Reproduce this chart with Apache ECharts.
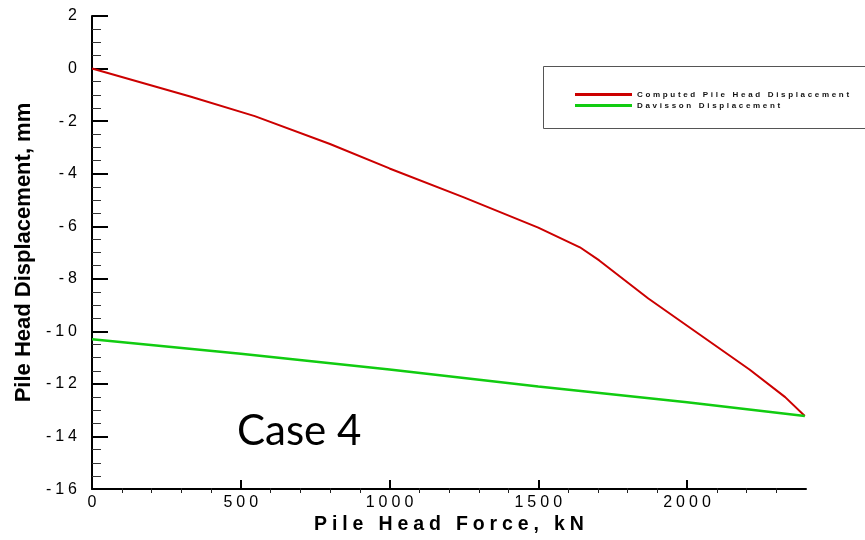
<!DOCTYPE html>
<html>
<head>
<meta charset="utf-8">
<script src="https://cdn.jsdelivr.net/npm/echarts@6/dist/echarts.min.js"></script>
<style>
html,body{margin:0;padding:0;background:#fff;}
#chart{width:865px;height:540px;}
</style>
</head>
<body>
<div id="chart"></div>
<script>
// ---- data ----
var computedForce = [0, 330, 547, 800, 1000, 1250, 1500, 1640, 1705, 1870, 2040, 2210, 2330, 2396];
var computedDisp  = [0, -1.06, -1.81, -2.87, -3.8, -4.9, -6.05, -6.8, -7.3, -8.75, -10.1, -11.45, -12.5, -13.22];
var davissonForce = [0, 500, 1000, 1500, 2000, 2396];
var davissonDisp  = [-10.3, -10.85, -11.45, -12.1, -12.7, -13.22];
var xMajorTicks = [0, 500, 1000, 1500, 2000];
var xMinorTicks = [100,200,300,400,600,700,800,900,1100,1200,1300,1400,1600,1700,1800,1900,2100,2200,2300];
var seriesNames = ['Computed Pile Head Displacement', 'Davisson Displacement'];
var xTitle = 'Pile Head Force, kN';
var yTitle = 'Pile Head Displacement, mm';
var caseLabel = 'Case 4';

function pairs(xs, ys){ return xs.map(function(x,i){ return [x, ys[i]]; }); }
function spaced(s, sp){ return String(s).split('').join(sp); }

var FONT = 'Liberation Sans, Arial, sans-serif';
var gridBox = { left: 92, top: 16, right: 59, bottom: 47, containLabel: false };

var chart = echarts.init(document.getElementById('chart'), null, {renderer:'canvas'});
var option = {
  backgroundColor: '#ffffff',
  animation: false,
  grid: [ Object.assign({}, gridBox), Object.assign({}, gridBox) ],
  legend: {
    orient: 'vertical',
    left: 570, top: 84,
    icon: 'rect',
    itemWidth: 57, itemHeight: 3,
    itemGap: 0,
    textStyle: { fontFamily: FONT, fontSize: 8, fontWeight: 'bold', color: '#111', lineHeight: 11 },
    formatter: function(n){ return spaced(n, '\u2004'); },
    data: seriesNames
  },
  graphic: [
    { type: 'rect', shape: { x: 543.5, y: 66.5, width: 330, height: 62 }, style: { fill: 'none', stroke: '#555', lineWidth: 1 }, silent: true },
    { type: 'text', left: 237, top: 410, style: { text: caseLabel, font: '42px Lato, "Open Sans", sans-serif', fill: '#000' } }
  ],
  xAxis: [
    {
      type: 'value', gridIndex: 0, min: 0, max: 2400, position: 'bottom',
      name: spaced(xTitle, '\u2005'), nameLocation: 'middle', nameGap: 22,
      nameTextStyle: { fontFamily: FONT, fontSize: 19.5, fontWeight: 'bold', color: '#000' },
      axisLine: { show: true, onZero: false, lineStyle: { color: '#000', width: 2 } },
      axisTick: { show: true, inside: true, length: 9, lineStyle: { color: '#000', width: 2 }, customValues: xMajorTicks },
      axisLabel: { show: true, customValues: xMajorTicks, margin: 5, color: '#000', fontSize: 16, fontFamily: FONT,
                   formatter: function(v){ return spaced(v, '\u2005'); } },
      splitLine: { show: false }
    },
    {
      type: 'value', gridIndex: 1, min: 0, max: 2400, position: 'bottom',
      axisLine: { show: false, onZero: false },
      axisTick: { show: true, inside: true, length: 5, lineStyle: { color: '#222', width: 1 }, customValues: xMinorTicks },
      axisLabel: { show: false },
      splitLine: { show: false }
    }
  ],
  yAxis: [
    {
      type: 'value', gridIndex: 0, min: -16, max: 2, interval: 2,
      name: yTitle, nameLocation: 'middle', nameGap: 51,
      nameTextStyle: { fontFamily: FONT, fontSize: 22, fontWeight: 'bold', color: '#000' },
      axisLine: { show: true, onZero: false, lineStyle: { color: '#000', width: 2 } },
      axisTick: { show: true, inside: true, length: 16, lineStyle: { color: '#000', width: 2 } },
      minorTick: { show: true, splitNumber: 4, length: 9, lineStyle: { color: '#333', width: 1 } },
      axisLabel: { margin: 15, color: '#000', fontSize: 16, fontFamily: FONT,
                   formatter: function(v){ return spaced(v, '\u2005'); } },
      splitLine: { show: false }
    },
    {
      type: 'value', gridIndex: 1, min: -16, max: 2, interval: 2,
      axisLine: { show: false, onZero: false }, axisTick: { show: false }, axisLabel: { show: false }, splitLine: { show: false }
    }
  ],
  series: [
    { name: seriesNames[0], type: 'line', xAxisIndex: 0, yAxisIndex: 0, data: pairs(computedForce, computedDisp), symbol: 'none', smooth: false,
      lineStyle: { color: '#cc0000', width: 2 }, itemStyle: { color: '#cc0000' } },
    { name: seriesNames[1], type: 'line', xAxisIndex: 0, yAxisIndex: 0, data: pairs(davissonForce, davissonDisp), symbol: 'none',
      lineStyle: { color: '#11cc11', width: 2.5 }, itemStyle: { color: '#11cc11' } }
  ]
};
chart.setOption(option);
</script>
</body>
</html>
